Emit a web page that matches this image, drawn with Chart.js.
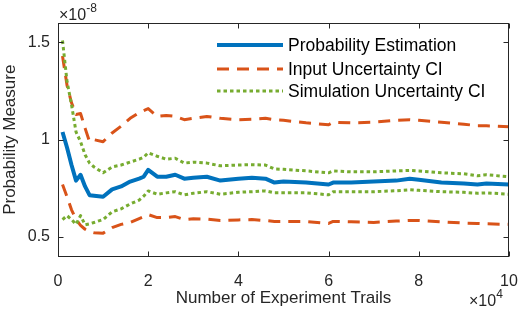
<!DOCTYPE html>
<html>
<head>
<meta charset="utf-8">
<script src="https://cdn.jsdelivr.net/npm/chart.js@4"></script>
<style>
  html, body { margin: 0; padding: 0; background: #fff; }
</style>
</head>
<body>
<canvas id="chart" width="518" height="312"></canvas>
<script>
// number of trials, in units of 10^4
const trials = [0.1, 0.2, 0.3, 0.4, 0.5, 0.6, 0.7, 0.8, 1.0, 1.2, 1.4, 1.6, 1.8, 1.9, 2.0, 2.2, 2.4, 2.6, 2.8, 3.0,
                3.3, 3.6, 4.0, 4.3, 4.6, 4.8, 5.0, 5.5, 6.0, 6.1, 6.5, 7.0, 7.5, 7.8, 8.0, 8.5, 9.0, 9.3, 9.5, 10];
// probability values, in units of 10^-8
const estimation = [1.04, 0.96, 0.87, 0.79, 0.82, 0.76, 0.715, 0.712, 0.707, 0.745, 0.76, 0.785, 0.80, 0.81, 0.845, 0.81, 0.81, 0.82, 0.80, 0.805,
                    0.81, 0.79, 0.80, 0.805, 0.80, 0.78, 0.785, 0.78, 0.77, 0.78, 0.78, 0.785, 0.79, 0.80, 0.795, 0.78, 0.775, 0.77, 0.775, 0.77];
const inputUpper = [1.43, 1.28, 1.19, 1.13, 1.135, 1.06, 0.99, 1.0, 0.99, 1.035, 1.07, 1.11, 1.14, 1.15, 1.16, 1.12, 1.125, 1.12, 1.103, 1.11,
                    1.12, 1.11, 1.103, 1.105, 1.11, 1.103, 1.10, 1.087, 1.077, 1.09, 1.087, 1.09, 1.10, 1.103, 1.10, 1.09, 1.08, 1.072, 1.072, 1.067];
const inputLower = [0.77, 0.707, 0.64, 0.59, 0.56, 0.54, 0.527, 0.522, 0.52, 0.548, 0.565, 0.575, 0.595, 0.605, 0.615, 0.60, 0.60, 0.605, 0.59, 0.594,
                    0.592, 0.585, 0.588, 0.59, 0.585, 0.58, 0.58, 0.58, 0.57, 0.58, 0.578, 0.575, 0.582, 0.585, 0.585, 0.578, 0.572, 0.57, 0.568, 0.565];
const simUpper = [1.51, 1.30, 1.18, 1.04, 0.99, 0.923, 0.88, 0.86, 0.83, 0.86, 0.87, 0.885, 0.90, 0.91, 0.933, 0.915, 0.90, 0.905, 0.88, 0.885,
                  0.88, 0.866, 0.87, 0.872, 0.87, 0.85, 0.848, 0.84, 0.83, 0.84, 0.835, 0.835, 0.84, 0.842, 0.84, 0.83, 0.825, 0.815, 0.82, 0.81];
const simLower = [0.59, 0.61, 0.59, 0.565, 0.61, 0.563, 0.568, 0.575, 0.59, 0.63, 0.645, 0.67, 0.69, 0.71, 0.737, 0.72, 0.727, 0.733, 0.717, 0.725,
                  0.733, 0.72, 0.73, 0.733, 0.737, 0.727, 0.727, 0.727, 0.717, 0.733, 0.733, 0.733, 0.738, 0.743, 0.74, 0.733, 0.73, 0.725, 0.727, 0.72];
const xTicks = [0, 2, 4, 6, 8, 10];
const yTicks = [0.5, 1, 1.5];
const seriesNames = ['Probability Estimation', 'Input Uncertainty CI', 'Simulation Uncertainty CI'];

const FONT = "'Liberation Sans', Arial, sans-serif";
const BLUE = '#0072BD', ORANGE = '#D95319', GREEN = '#77AC30';

const pts = arr => trials.map((t, i) => ({ x: t, y: arr[i] }));

function line(data, color, width, dash, order) {
    return {
        data: pts(data),
        borderColor: color,
        borderWidth: width,
        borderDash: dash,
        borderCapStyle: 'butt',
        borderJoinStyle: 'round',
        pointRadius: 0,
        tension: 0,
        fill: false,
        order: order
    };
}

// matlab-like box, inward ticks, exponent labels and legend
const matlabAxes = {
    id: 'matlabAxes',
    afterDraw(chart) {
        const { ctx, chartArea: a, scales: { x, y } } = chart;
        const L = Math.round(a.left) + 0.5, R = Math.round(a.right) - 0.5;
        const T = Math.round(a.top) + 0.5, B = Math.round(a.bottom) - 0.5;
        ctx.save();
        ctx.strokeStyle = '#262626';
        ctx.lineWidth = 1;
        ctx.setLineDash([]);
        ctx.strokeRect(L, T, R - L, B - T);
        ctx.beginPath();
        xTicks.forEach(v => {
            const p = Math.round(x.getPixelForValue(v)) + 0.5;
            ctx.moveTo(p, B); ctx.lineTo(p, B - 5);
            ctx.moveTo(p, T); ctx.lineTo(p, T + 5);
        });
        yTicks.forEach(v => {
            const p = Math.round(y.getPixelForValue(v)) + 0.5;
            ctx.moveTo(L, p); ctx.lineTo(L + 5, p);
            ctx.moveTo(R, p); ctx.lineTo(R - 5, p);
        });
        ctx.stroke();

        // exponent labels
        ctx.fillStyle = '#262626';
        ctx.textBaseline = 'alphabetic';
        ctx.textAlign = 'left';
        ctx.font = '16px ' + FONT;
        ctx.fillText('\u00d710', a.left + 1, 20);
        let w = ctx.measureText('\u00d710').width;
        ctx.font = '12px ' + FONT;
        ctx.fillText('-8', a.left + 1 + w, 12);

        ctx.font = '16px ' + FONT;
        ctx.fillText('\u00d710', 469, 306);
        w = ctx.measureText('\u00d710').width;
        ctx.font = '12px ' + FONT;
        ctx.fillText('4', 469 + w, 298);

        // legend
        const items = [
            { color: BLUE, width: 4, dash: [] },
            { color: ORANGE, width: 3, dash: [12, 8] },
            { color: GREEN, width: 3, dash: [3.5, 3] }
        ];
        const rows = [45, 69, 91];
        ctx.font = '17.5px ' + FONT;
        ctx.textBaseline = 'middle';
        items.forEach((it, i) => {
            ctx.strokeStyle = it.color;
            ctx.lineWidth = it.width;
            ctx.setLineDash(it.dash);
            ctx.beginPath();
            ctx.moveTo(217, rows[i]);
            ctx.lineTo(283, rows[i]);
            ctx.stroke();
            ctx.fillStyle = '#000';
            ctx.fillText(seriesNames[i], 288, rows[i] + 1);
        });
        ctx.restore();
    }
};

const ctx = document.getElementById('chart').getContext('2d');
const chart = new Chart(ctx, {
    type: 'line',
    data: {
        datasets: [
            line(estimation, BLUE, 4, [], 3),
            line(inputUpper, ORANGE, 3, [12, 8], 2),
            line(inputLower, ORANGE, 3, [12, 8], 2),
            line(simUpper, GREEN, 3, [3.5, 3], 1),
            line(simLower, GREEN, 3, [3.5, 3], 1)
        ]
    },
    options: {
        responsive: false,
        animation: false,
        devicePixelRatio: 1,
        layout: { autoPadding: false, padding: { top: 23, right: 9, left: 0, bottom: 0 } },
        plugins: {
            legend: { display: false },
            tooltip: { enabled: false },
            title: { display: false }
        },
        scales: {
            x: {
                type: 'linear',
                min: 0,
                max: 10,
                afterBuildTicks: s => { s.ticks = xTicks.map(v => ({ value: v })); },
                afterFit: s => { s.height = 55.5; s.paddingLeft = 0; s.paddingRight = 0; },
                grid: { display: false, drawTicks: false },
                border: { display: false },
                ticks: {
                    padding: 15,
                    color: '#262626',
                    font: { family: FONT, size: 16 },
                    maxRotation: 0,
                    callback: v => String(v)
                },
                title: {
                    display: true,
                    text: 'Number of Experiment Trails',
                    color: '#262626',
                    font: { family: FONT, size: 17 },
                    padding: { top: 0, bottom: 3 }
                }
            },
            y: {
                type: 'linear',
                min: 0.4,
                max: 1.6,
                afterBuildTicks: s => { s.ticks = yTicks.map(v => ({ value: v })); },
                afterFit: s => { s.width = 58; s.paddingTop = 0; s.paddingBottom = 0; },
                grid: { display: false, drawTicks: false },
                border: { display: false },
                ticks: {
                    padding: 8,
                    color: '#262626',
                    font: { family: FONT, size: 16 },
                    callback: v => String(v)
                },
                title: {
                    display: true,
                    text: 'Probability Measure',
                    color: '#262626',
                    font: { family: FONT, size: 17 },
                    padding: { top: 0, bottom: 0 }
                }
            }
        }
    },
    plugins: [matlabAxes]
});
</script>
</body>
</html>
